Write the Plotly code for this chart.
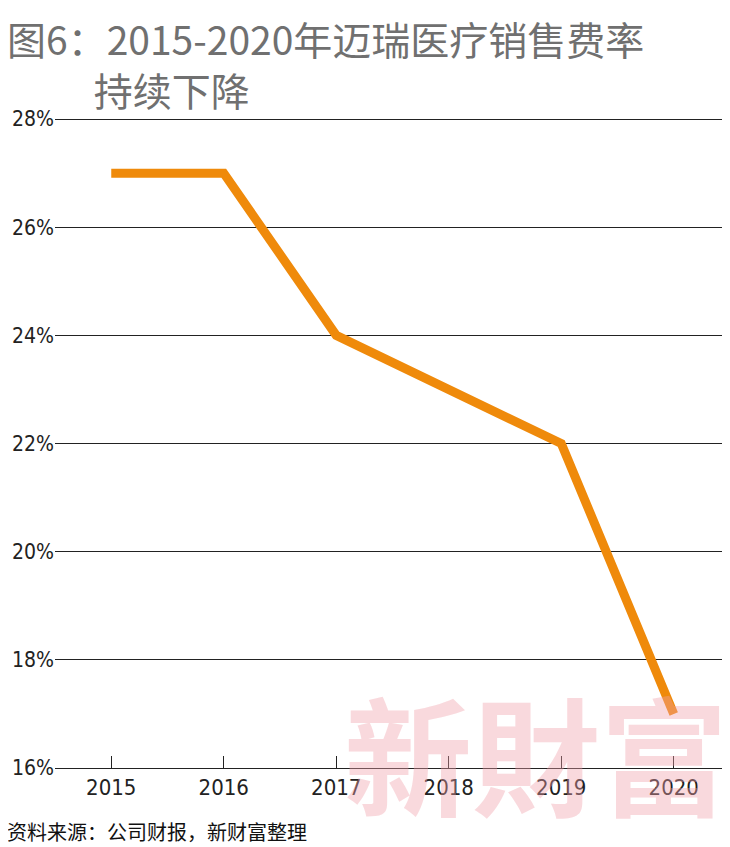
import plotly.graph_objects as go

years = [2015, 2016, 2017, 2018, 2019, 2020]
sales_rate = [27, 27, 24, 23, 22, 17]
y_ticks = [16, 18, 20, 22, 24, 26, 28]
y_labels = [f"{v}%" for v in y_ticks]

fig = go.Figure()
fig.add_trace(go.Scatter(x=years, y=sales_rate, mode='lines',
                         line=dict(color='#ef8a0b', width=9)))

# watermark
fig.add_annotation(text="<b>新財富</b>", xref='paper', yref='paper', x=1.0, y=0, yshift=-78,
                   xanchor='right', yanchor='bottom', showarrow=False,
                   font=dict(size=128, color='rgba(240,160,170,0.4)', family='Noto Sans CJK SC'))
fig.add_annotation(text="图6：2015-2020年迈瑞医疗销售费率<br>　　 持续下降", xref='paper', yref='paper',
                   x=0, y=1.0, xshift=-50, yshift=110, xanchor='left', yanchor='top', showarrow=False, align='left',
                   font=dict(size=39, color='#707070', family='Noto Sans CJK SC'))
fig.add_annotation(text="资料来源：公司财报，新财富整理", xref='paper', yref='paper',
                   x=0, y=0, xshift=-50, yshift=-80, xanchor='left', yanchor='bottom', showarrow=False,
                   font=dict(size=20, color='#111', family='Noto Sans CJK SC'))

fig.update_layout(
    width=730, height=847, showlegend=False,
    plot_bgcolor='rgba(0,0,0,0)', paper_bgcolor='white',
    margin=dict(l=47, r=8, t=110, b=87),
    xaxis=dict(range=[2014.5, 2020.5], tickvals=years, ticks='inside', ticklen=12, automargin=False,
               tickcolor='#222', showgrid=False, showline=True, linecolor='#222', linewidth=1,
               tickfont=dict(size=22, color='#222', family='DejaVu Sans Condensed')),
    yaxis=dict(range=[16, 28.02], tickvals=y_ticks, ticktext=y_labels, showgrid=True, automargin=False,
               gridcolor='#222', gridwidth=1, zeroline=False,
               tickfont=dict(size=21, color='#222', family='DejaVu Sans Condensed')),
)
fig.write_html("out.html")
